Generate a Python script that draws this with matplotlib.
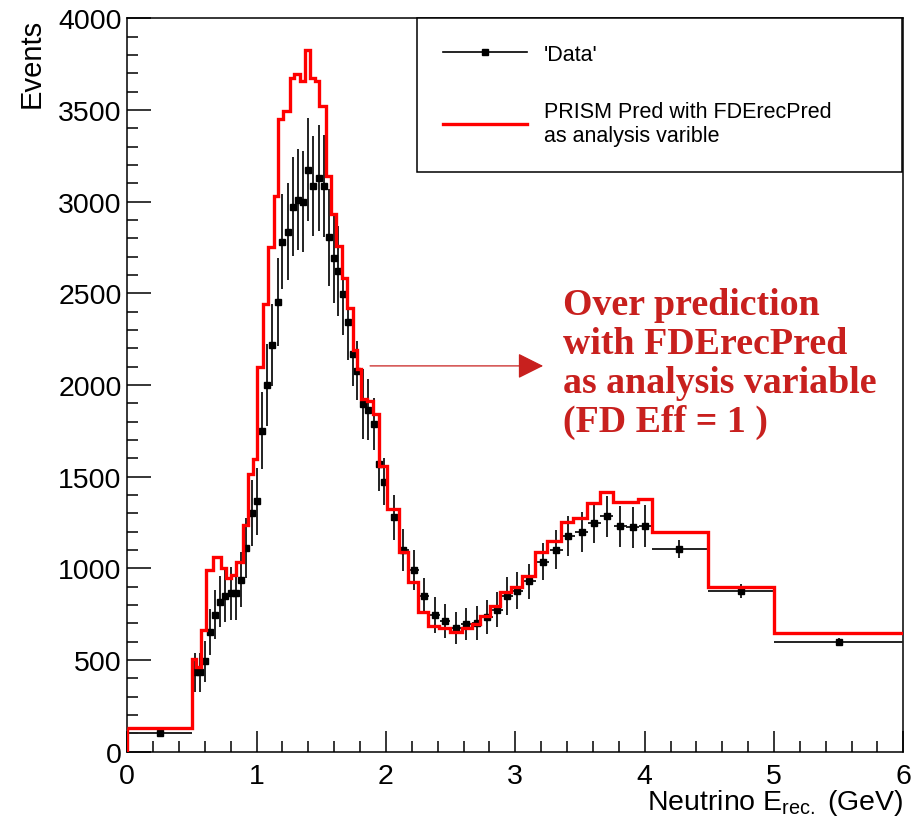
import matplotlib
matplotlib.use('Agg')
import matplotlib.pyplot as plt
from matplotlib.lines import Line2D
from matplotlib.ticker import MultipleLocator
import numpy as np

plt.rcParams['font.family'] = ['Liberation Sans', 'DejaVu Sans']
plt.rcParams['mathtext.fontset'] = 'custom'
plt.rcParams['mathtext.rm'] = 'Liberation Sans'
plt.rcParams['mathtext.it'] = 'Liberation Sans:italic'

# PRISM prediction with FDErecPred (red histogram), bin edges in GeV
pred_edges = [0.0, 0.5, 0.531, 0.570, 0.609, 0.660, 0.690, 0.725, 0.763, 0.802,
              0.841, 0.897, 0.931, 0.970, 1.006, 1.047, 1.091, 1.135, 1.163, 1.207,
              1.255, 1.292, 1.333, 1.374, 1.415, 1.455, 1.485, 1.533, 1.577, 1.616,
              1.658, 1.701, 1.743, 1.774, 1.805, 1.856, 1.903, 1.949, 2.006, 2.05,
              2.101, 2.173, 2.251, 2.328, 2.413, 2.496, 2.586, 2.664, 2.728, 2.805,
              2.882, 2.965, 3.05, 3.153, 3.244, 3.352, 3.449, 3.553, 3.656, 3.754,
              3.85, 3.952, 4.056, 4.49, 5.0, 6.0]
pred_events = [128, 506, 461, 666, 993, 1060, 1060, 1002, 946, 964,
               1033, 1237, 1515, 1595, 2096, 2442, 2751, 3033, 3450, 3496,
               3676, 3698, 3656, 3827, 3676, 3660, 3520, 3141, 2932, 2760,
               2582, 2418, 2191, 2087, 1924, 1914, 1842, 1560, 1324, 1324,
               1088, 924, 764, 688, 673, 652, 673, 697, 742, 797,
               870, 897, 960, 1088, 1151, 1251, 1273, 1357, 1415, 1364,
               1364, 1378, 1200, 897, 648]

# 'Data' points
data_e = [0.25,
          0.525, 0.562, 0.601, 0.640, 0.679, 0.717, 0.756, 0.802, 0.841, 0.879,
          0.918, 0.962, 1.000, 1.039, 1.078, 1.120, 1.163, 1.194, 1.239, 1.279,
          1.318, 1.358, 1.397, 1.439, 1.479, 1.518, 1.558, 1.597, 1.632, 1.666,
          1.709, 1.748, 1.779, 1.822, 1.865, 1.908, 1.947, 1.985, 2.063,
          2.135, 2.217, 2.295, 2.380, 2.457, 2.542, 2.620, 2.702, 2.784, 2.862,
          2.939, 3.016,
          3.109, 3.212, 3.315, 3.410, 3.514, 3.612, 3.707, 3.810, 3.909, 4.004,
          4.268, 4.745, 5.5]
data_events = [102,
               433, 433, 493, 651, 748, 818, 851, 864, 864, 937,
               1111, 1300, 1366, 1751, 2000, 2218, 2451, 2781, 2836, 2972,
               3009, 3000, 3174, 3085, 3129, 3085, 2805, 2692, 2620, 2496,
               2345, 2169, 2078, 1896, 1865, 1787, 1569, 1473, 1279,
               1100, 993, 848, 748, 712, 675, 697, 702, 733, 775,
               848, 878,
               930, 1037, 1102, 1178, 1197, 1248, 1284, 1230, 1224, 1230,
               1104, 877, 599]
data_err = [10,
            105, 105, 110, 125, 135, 140, 145, 145, 145, 150,
            165, 180, 182, 209, 223, 225, 240, 260, 265, 270,
            275, 275, 282, 270, 290, 280, 265, 245, 245, 223,
            209, 174, 160, 190, 165, 141, 145, 130, 123,
            114, 109, 98, 98, 94, 86, 89, 94, 93, 95,
            103, 102,
            95, 100, 105, 108, 110, 112, 113, 112, 112, 113,
            48, 39, 21]
data_xerr = [0.25] + [0.02] * 39 + [0.04] * 12 + [0.05] * 10 + [0.212, 0.255, 0.5]

red = '#ff0000'
note_red = '#c8201e'

fig = plt.figure(figsize=(9.13, 8.2), dpi=100)
ax = fig.add_axes([0.1394, 0.0820, 0.8500, 0.8946])

ax.errorbar(data_e, data_events, yerr=data_err, xerr=data_xerr, fmt='s',
            color='black', ecolor='#222222', ms=5, elinewidth=1.4, capsize=0, zorder=3)
ax.stairs(pred_events, pred_edges, baseline=None, color=red, lw=2.4, zorder=4)
ax.vlines(pred_edges[0], 0, pred_events[0], color=red, lw=2.4, zorder=4)

ax.set_xlim(0, 6)
ax.set_ylim(0, 4000)
ax.xaxis.set_major_locator(MultipleLocator(1))
ax.xaxis.set_minor_locator(MultipleLocator(0.2))
ax.yaxis.set_major_locator(MultipleLocator(500))
ax.yaxis.set_minor_locator(MultipleLocator(100))
ax.tick_params(axis='both', which='both', direction='in', top=False, right=False,
               labelsize=20.5, width=1.1)
ax.tick_params(axis='y', which='major', length=17, pad=4)
ax.tick_params(axis='y', which='minor', length=8)
ax.tick_params(axis='x', which='major', length=15, pad=8)
ax.tick_params(axis='x', which='minor', length=7.7)
for s in ax.spines.values():
    s.set_linewidth(1.1)

ax.set_ylabel('Events', fontsize=21, loc='top', labelpad=9)
ax.set_xlabel('Neutrino E$_{\\mathrm{rec.}}$ (GeV)', fontsize=20.5, loc='right', labelpad=-1)

handles = [Line2D([], [], color='black', marker='s', ms=4, lw=1.2),
           Line2D([], [], color=red, lw=2.4)]
labels = ["'Data'", "PRISM Pred with FDErecPred\nas analysis varible"]
leg = ax.legend(handles, labels, loc='upper left', bbox_to_anchor=(0.3733, 0.79, 0.6245, 0.21),
                mode='expand', borderaxespad=0, fontsize=15.5, handlelength=3.9,
                handletextpad=0.8, labelspacing=1.67, borderpad=1.2,
                fancybox=False, edgecolor='black', framealpha=1)
leg.get_frame().set_linewidth(1.1)

ax.annotate('', xy=(3.215, 2104), xytext=(1.877, 2104),
            arrowprops=dict(arrowstyle='-|>,head_length=0.8,head_width=0.4',
                            color=note_red, lw=0.9, mutation_scale=20, shrinkA=0, shrinkB=0))
ax.text(3.367, 2534, 'Over prediction\nwith FDErecPred\nas analysis variable\n(FD Eff = 1 )',
        va='top', ha='left', fontsize=27.3, family='Liberation Serif', weight='bold',
        color=note_red, linespacing=1.15)

fig.savefig('out.png', dpi=100)
